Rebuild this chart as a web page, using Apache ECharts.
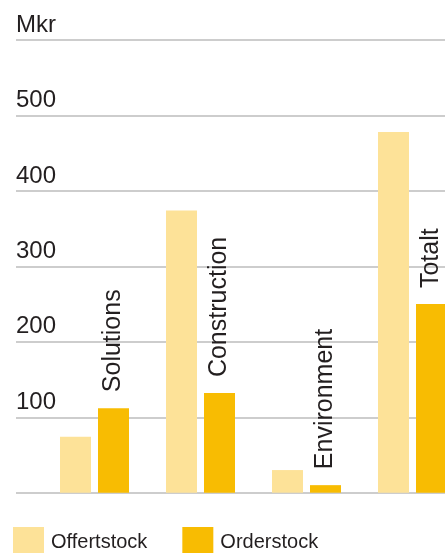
<!DOCTYPE html>
<html>
<head>
<meta charset="utf-8">
<script src="https://cdn.jsdelivr.net/npm/echarts@6/dist/echarts.min.js"></script>
<style>
html,body{margin:0;padding:0;background:#fff;}
#chart{width:445px;height:553px;}
</style>
</head>
<body>
<div id="chart"></div>
<script>
var categories = ['Solutions', 'Construction', 'Environment', 'Totalt'];
var offertstock = [74, 374, 30, 478];
var orderstock = [112, 132, 10, 250];
var yTicks = [0, 100, 200, 300, 400, 500, 600];
var unitLabel = 'Mkr';

var FONT = '"Liberation Sans", Arial, sans-serif';
var TEXT = '#231f20';
var chart = echarts.init(document.getElementById('chart'), null, {renderer: 'canvas'});
chart.setOption({
  animation: false,
  backgroundColor: '#fff',
  legend: {
    left: 13, top: 527, padding: 0,
    itemWidth: 31, itemHeight: 31, itemGap: 35,
    icon: 'rect',
    textStyle: {fontFamily: FONT, fontSize: 20, color: TEXT, padding: [0,0,0,2]},
    data: ['Offertstock', 'Orderstock']
  },
  grid: [
    {left: 16, right: 0, top: 40, bottom: 60.3, containLabel: false},
    {left: 94.5, right: 32.5, top: 40, bottom: 60.3, containLabel: false}
  ],
  xAxis: [
    {gridIndex: 0, type: 'value', min: 0, max: 1, show: false},
    {gridIndex: 1, type: 'category', data: categories, boundaryGap: false, show: false}
  ],
  yAxis: [
    {
      gridIndex: 0, type: 'value', min: yTicks[0], max: yTicks[yTicks.length-1], interval: 100,
      axisLine: {show: false}, axisTick: {show: false},
      splitLine: {show: true, lineStyle: {color: '#bdbdbd', width: 1.5}},
      axisLabel: {
        inside: true, margin: 0, align: 'left', verticalAlign: 'bottom',
        fontFamily: FONT, fontSize: 24, color: TEXT, lineHeight: 26, padding: [0,0,2,0],
        formatter: function (v) { if (v === 0) return ''; if (v === 600) return unitLabel; return String(v); }
      }
    },
    {
      gridIndex: 1, type: 'value', min: yTicks[0], max: yTicks[yTicks.length-1], interval: 100, show: false,
      splitLine: {show: false}
    }
  ],
  series: [
    {
      name: 'Offertstock', type: 'bar', xAxisIndex: 1, yAxisIndex: 1, clip: false,
      data: offertstock, barWidth: 31, barGap: '22.6%',
      itemStyle: {color: '#fde298'}
    },
    {
      name: 'Orderstock', type: 'bar', xAxisIndex: 1, yAxisIndex: 1, clip: false,
      data: orderstock, barWidth: 31, barGap: '22.6%',
      itemStyle: {color: '#f8bc02'},
      label: {
        show: true, position: 'top', rotate: 90, distance: 16,
        align: 'left', verticalAlign: 'middle',
        fontFamily: FONT, fontSize: 25, color: TEXT,
        formatter: function (p) { return categories[p.dataIndex]; }
      }
    }
  ]
});
</script>
</body>
</html>
